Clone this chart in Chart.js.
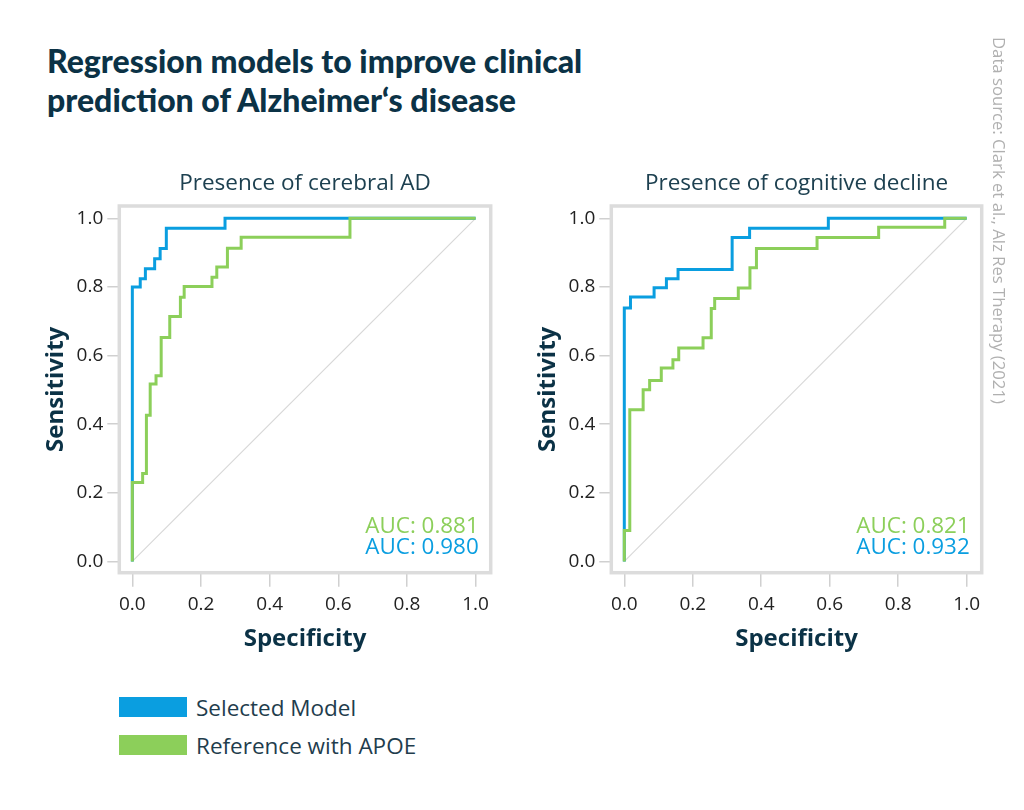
<!DOCTYPE html>
<html lang="en">
<head>
    <meta charset="UTF-8">
    <title>Regression models to improve clinical prediction of Alzheimer's disease</title>
    <script src="https://cdn.jsdelivr.net/npm/chart.js"></script>
    <style>
        html, body {
            margin: 0;
            padding: 0;
            background: #ffffff;
            overflow: hidden;
        }
        body {
            width: 1024px;
            height: 810px;
            position: relative;
            font-family: "Open Sans", sans-serif;
        }
        h1 {
            position: absolute;
            left: 47px;
            top: 41px;
            margin: 0;
            font-family: Lato, sans-serif;
            font-weight: 900;
            font-size: 32px;
            line-height: 39px;
            color: #0b3246;
        }
        .panel {
            position: absolute;
            top: 150px;
        }
        #legend {
            position: absolute;
            left: 119px;
            top: 694px;
        }
        .legend-row {
            display: flex;
            align-items: center;
            height: 26px;
            margin-bottom: 12px;
            font-size: 22.5px;
            color: #1f3d4d;
        }
        .legend-box {
            width: 68px;
            height: 20px;
            margin-right: 9px;
        }
        #source {
            position: absolute;
            left: 988px;
            top: 37px;
            writing-mode: vertical-rl;
            font-size: 16.7px;
            color: #b0b0b0;
            white-space: nowrap;
        }
    </style>
</head>
<body>
    <h1>Regression models to improve clinical<br>prediction of Alzheimer‘s disease</h1>
    <canvas class="panel" id="cerebralChart" width="500" height="520" style="left:0px"></canvas>
    <canvas class="panel" id="declineChart" width="500" height="520" style="left:492px"></canvas>
    <div id="legend"></div>
    <div id="source">Data source: Clark et al., Alz Res Therapy (2021)</div>

    <script>
        // values (ROC curves, step points)
        const tickValues = [0, 0.2, 0.4, 0.6, 0.8, 1.0];
        const seriesNames = ["Selected Model", "Reference with APOE"];
        const panelTitles = ["Presence of cerebral AD", "Presence of cognitive decline"];

        const cerebralSelectedFpr = [0, 0, 0.023, 0.038, 0.065, 0.081, 0.099, 0.270, 1.0];
        const cerebralSelectedTpr = [0, 0.80, 0.824, 0.853, 0.882, 0.912, 0.971, 1.0, 1.0];
        const cerebralReferenceFpr = [0, 0, 0.030, 0.041, 0.052, 0.069, 0.084, 0.109, 0.140, 0.151, 0.232, 0.246, 0.277, 0.317, 0.634, 1.0];
        const cerebralReferenceTpr = [0, 0.23, 0.256, 0.426, 0.517, 0.541, 0.653, 0.714, 0.77, 0.801, 0.828, 0.858, 0.913, 0.945, 1.0, 1.0];

        const declineSelectedFpr = [0, 0, 0.018, 0.087, 0.123, 0.157, 0.315, 0.366, 0.596, 1.0];
        const declineSelectedTpr = [0, 0.739, 0.771, 0.798, 0.824, 0.851, 0.944, 0.971, 1.0, 1.0];
        const declineReferenceFpr = [0, 0, 0.016, 0.055, 0.074, 0.108, 0.142, 0.159, 0.230, 0.254, 0.264, 0.333, 0.367, 0.386, 0.563, 0.743, 0.936, 1.0];
        const declineReferenceTpr = [0, 0.09, 0.442, 0.50, 0.527, 0.564, 0.588, 0.622, 0.652, 0.737, 0.766, 0.797, 0.856, 0.912, 0.944, 0.974, 1.0, 1.0];

        const aucSelected = [0.980, 0.932];
        const aucReference = [0.881, 0.821];

        const blue = "#0a9ee0";
        const green = "#8ccf5a";
        const navy = "#0b3246";

        function toPoints(xs, ys) {
            return xs.map((x, i) => ({ x: x, y: ys[i] }));
        }

        // light grey box round the plot area
        const framePlugin = {
            id: "frame",
            beforeDatasetsDraw(chart) {
                const a = chart.chartArea;
                const ctx = chart.ctx;
                ctx.save();
                ctx.strokeStyle = "#dcdcdc";
                ctx.lineWidth = 3.5;
                ctx.strokeRect(a.left, a.top, a.right - a.left, a.bottom - a.top);
                ctx.restore();
            }
        };

        // AUC values in the lower right corner
        const aucPlugin = {
            id: "auc",
            afterDatasetsDraw(chart, args, opts) {
                const a = chart.chartArea;
                const ctx = chart.ctx;
                ctx.save();
                ctx.font = "22.4px 'Open Sans'";
                ctx.textAlign = "right";
                ctx.textBaseline = "alphabetic";
                ctx.fillStyle = green;
                ctx.fillText("AUC: " + opts.reference.toFixed(3), a.right - 12, a.bottom - 40);
                ctx.fillStyle = blue;
                ctx.fillText("AUC: " + opts.selected.toFixed(3), a.right - 12, a.bottom - 19);
                ctx.restore();
            }
        };

        function makeChart(id, index, selFpr, selTpr, refFpr, refTpr, padRight) {
            const ctx = document.getElementById(id).getContext("2d");
            return new Chart(ctx, {
                type: "line",
                data: {
                    datasets: [{
                        label: seriesNames[1],
                        data: toPoints(refFpr, refTpr),
                        borderColor: green,
                        borderWidth: 3,
                        stepped: "before",
                        pointRadius: 0,
                        fill: false
                    }, {
                        label: seriesNames[0],
                        data: toPoints(selFpr, selTpr),
                        borderColor: blue,
                        borderWidth: 3,
                        stepped: "before",
                        pointRadius: 0,
                        fill: false
                    }, {
                        label: "chance",
                        data: toPoints([0, 1], [0, 1]),
                        borderColor: "#d8d8d8",
                        borderWidth: 1.2,
                        pointRadius: 0,
                        fill: false
                    }]
                },
                options: {
                    responsive: false,
                    animation: false,
                    layout: {
                        padding: { left: 0, right: padRight, top: 0, bottom: 0 }
                    },
                    plugins: {
                        legend: { display: false },
                        tooltip: { enabled: false },
                        title: {
                            display: true,
                            text: panelTitles[index],
                            fullSize: false,
                            color: "#1d4050",
                            font: { family: "Open Sans", size: 22.5, weight: "normal", lineHeight: 1.2 },
                            padding: { top: 20, bottom: 9 }
                        },
                        auc: { selected: aucSelected[index], reference: aucReference[index] }
                    },
                    scales: {
                        x: {
                            type: "linear",
                            min: -0.038,
                            max: 1.044,
                            afterBuildTicks: (s) => { s.ticks = tickValues.map(v => ({ value: v })); },
                            afterFit: (s) => { s.height = 97.3; },
                            border: { display: false },
                            grid: {
                                drawOnChartArea: false,
                                drawTicks: true,
                                tickLength: 14,
                                color: "#d0d0d0",
                                lineWidth: 1.5
                            },
                            ticks: {
                                padding: 6,
                                color: "#222222",
                                font: { family: "Open Sans", size: 19 },
                                callback: (v) => v.toFixed(1)
                            },
                            title: {
                                display: true,
                                text: "Specificity",
                                color: navy,
                                font: { family: "Open Sans", size: 24, weight: "bold", lineHeight: 1.2 },
                                padding: { top: 0, bottom: 16 }
                            }
                        },
                        y: {
                            type: "linear",
                            min: -0.033,
                            max: 1.036,
                            afterBuildTicks: (s) => { s.ticks = tickValues.map(v => ({ value: v })); },
                            afterFit: (s) => { s.width = 119.3; },
                            border: { display: false },
                            grid: {
                                drawOnChartArea: false,
                                drawTicks: true,
                                tickLength: 12,
                                color: "#d0d0d0",
                                lineWidth: 1.5
                            },
                            ticks: {
                                padding: 4,
                                color: "#222222",
                                font: { family: "Open Sans", size: 19 },
                                callback: (v) => v.toFixed(1)
                            },
                            title: {
                                display: true,
                                text: "Sensitivity",
                                color: navy,
                                font: { family: "Open Sans", size: 24, weight: "bold", lineHeight: 1.2 },
                                padding: { top: 42, bottom: 0 }
                            }
                        }
                    }
                },
                plugins: [framePlugin, aucPlugin]
            });
        }

        makeChart("cerebralChart", 0, cerebralSelectedFpr, cerebralSelectedTpr,
            cerebralReferenceFpr, cerebralReferenceTpr, 9.3);
        makeChart("declineChart", 1, declineSelectedFpr, declineSelectedTpr,
            declineReferenceFpr, declineReferenceTpr, 10.3);

        // legend below both panels
        const legend = document.getElementById("legend");
        [blue, green].forEach((c, i) => {
            const row = document.createElement("div");
            row.className = "legend-row";
            const box = document.createElement("div");
            box.className = "legend-box";
            box.style.background = c;
            const label = document.createElement("span");
            label.textContent = seriesNames[i];
            row.appendChild(box);
            row.appendChild(label);
            legend.appendChild(row);
        });
    </script>
</body>
</html>
